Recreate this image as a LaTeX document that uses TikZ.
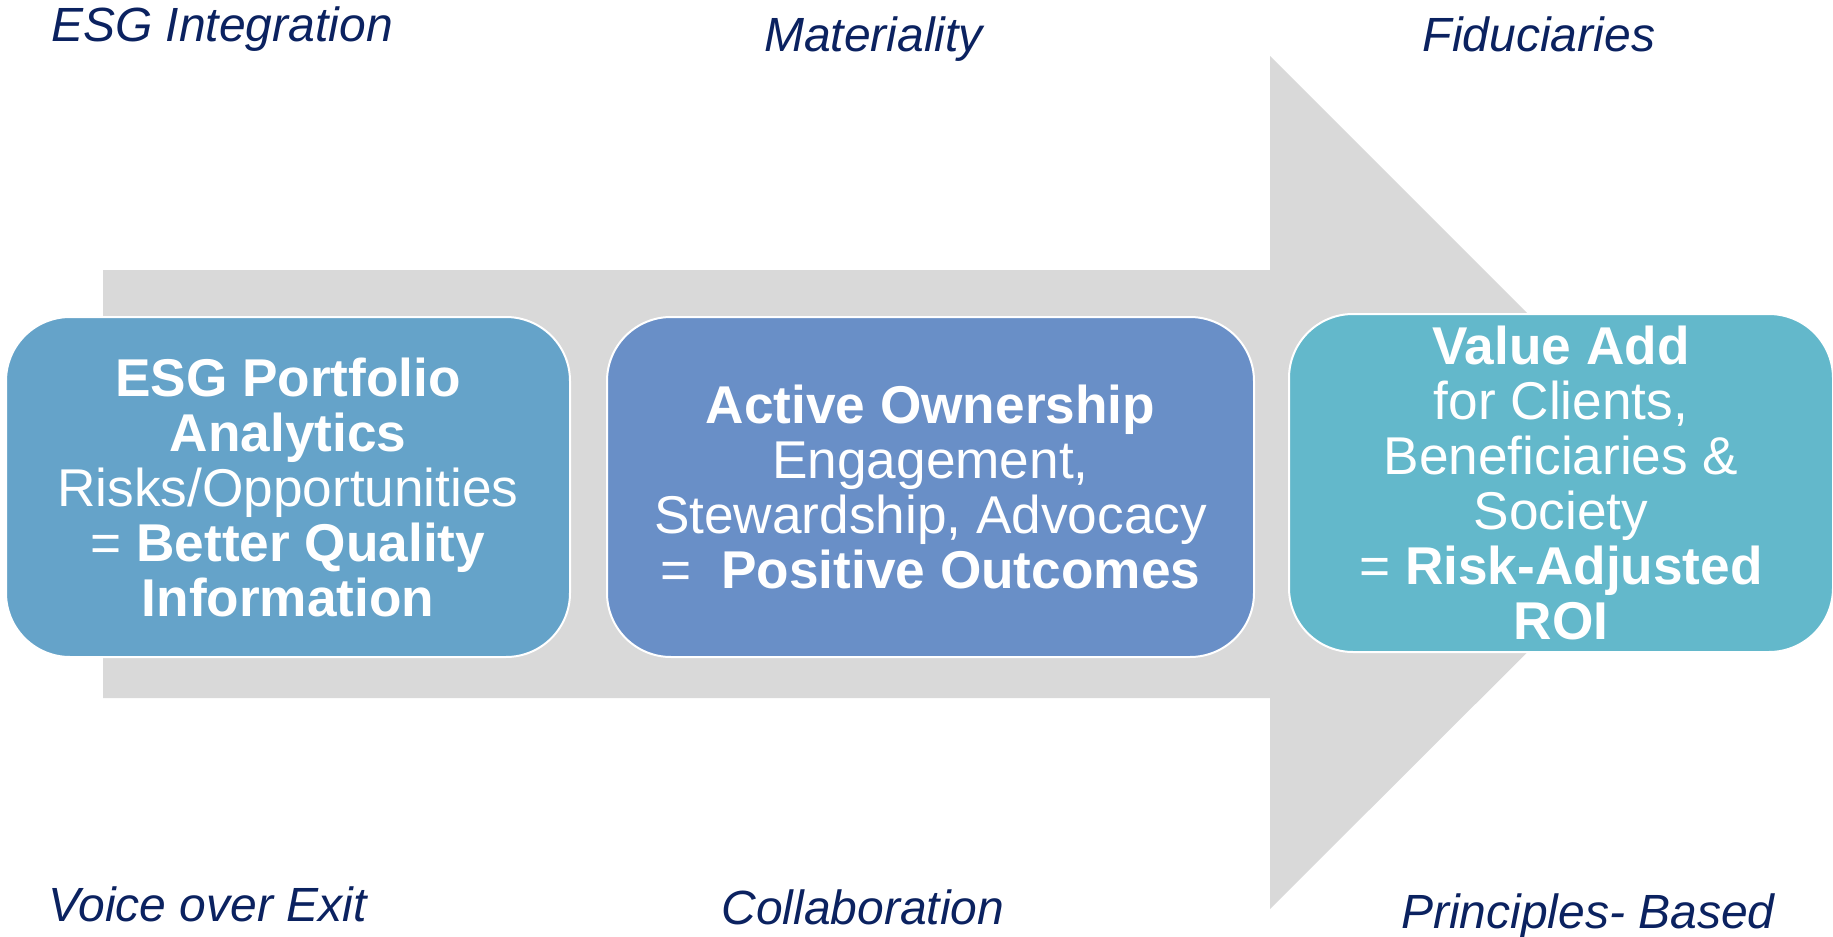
\documentclass[tikz,border=0pt]{standalone}
\usepackage{fontspec}
\setmainfont{Liberation Sans}
\definecolor{arrowgray}{HTML}{D9D9D9}
\definecolor{labelblue}{HTML}{0B2260}
\definecolor{boxone}{HTML}{65A3C9}
\definecolor{boxtwo}{HTML}{698FC7}
\definecolor{boxthree}{HTML}{63B8CB}
\begin{document}
\begin{tikzpicture}[x=0.5pt, y=-0.5pt,
  step box/.style={draw=white, line width=1pt, rounded corners=32pt, text=white, align=center,
    minimum height=170pt, inner sep=0pt, font=\fontsize{26.6}{27.5}\selectfont},
  side label/.style={anchor=base, inner sep=0pt, text=labelblue, font=\fontsize{24}{26}\selectfont\itshape}]
\useasboundingbox (0,0) rectangle (1833,937);
% big grey arrow behind the boxes
\fill[arrowgray] (103,270) -- (1270,270) -- (1270,56) -- (1697,483)
  -- (1270,909) -- (1270,698) -- (103,698) -- cycle;
% the three steps
\node[step box, fill=boxone, minimum width=282pt] (analytics) at (288,487)
  {\textbf{ESG Portfolio}\\ \textbf{Analytics}\\ Risks/Opportunities\\ = \textbf{Better Quality}\\ \textbf{Information}};
\node[step box, fill=boxtwo, minimum width=323.5pt] (ownership) at (930.5,487)
  {\textbf{Active Ownership}\\ Engagement,\\ Stewardship, Advocacy\\ =~ \textbf{Positive Outcomes}};
\node[step box, fill=boxthree, minimum width=272pt, minimum height=169pt] (value) at (1561,483)
  {\textbf{Value Add}\\ for Clients,\\ Beneficiaries \&\\ Society\\ = \textbf{Risk-Adjusted}\\ \textbf{ROI}};
% labels above and below
\begin{scope}[every node/.style={side label}]
\node (integration) at (222,41) {ESG Integration};
\node (materiality) at (873.5,51) {Materiality};
\node (fiduciaries) at (1539,51) {Fiduciaries};
\node (voice) at (207.5,921) {Voice over Exit};
\node (collab) at (863,924) {Collaboration};
\node (principles) at (1588,928) {Principles- Based};
\end{scope}
\end{tikzpicture}
\end{document}
